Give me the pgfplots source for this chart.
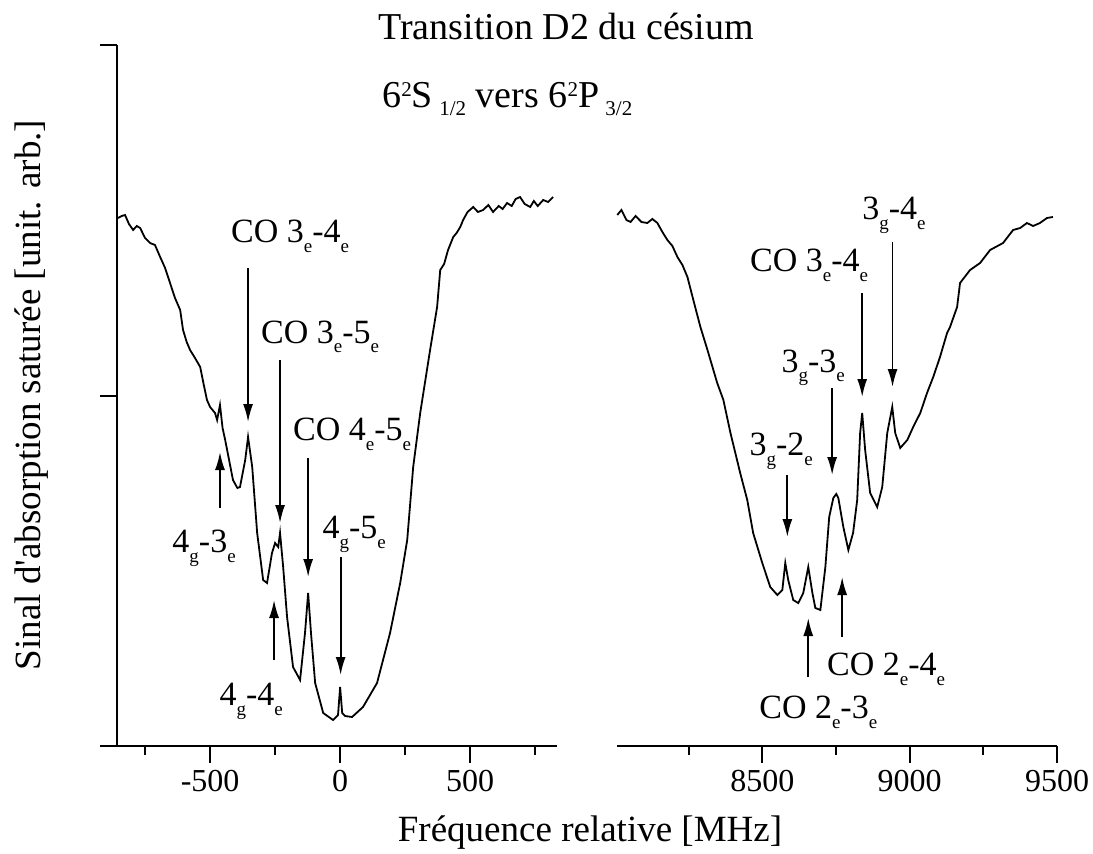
\documentclass[border=0pt]{standalone}
\usepackage{fontspec}
\setmainfont{Liberation Serif}
\usepackage{pgfplots}
\pgfplotsset{compat=1.18}
\usetikzlibrary{arrows.meta}

% small, low subscripts as in the scan
\newcommand\sub[1]{\raisebox{-5pt}{\fontsize{9.5}{9.5}\selectfont #1}}
\newcommand\tsub[1]{\raisebox{-4pt}{\fontsize{10.5}{10.5}\selectfont #1}}
\newcommand\tsup[1]{\raisebox{5.5pt}{\fontsize{10.5}{10.5}\selectfont #1}}

\pgfplotsset{
  panel/.style={
    scale only axis, width=220pt, height=350.5pt,
    anchor=south west,
    ymin=0, ymax=701, clip=false,
    axis x line*=bottom,
    axis line style={line width=1.3pt},
    tick align=outside,
    major tick length=8.5pt, minor tick length=4.5pt,
    tick style={line width=1pt, black},
    ticklabel style={font=\fontsize{16}{16}\selectfont},
    /pgf/number format/assume math mode=true,
    /pgf/number format/1000 sep={},
  },
}
\tikzset{
  lbl/.style={anchor=base, font=\fontsize{17}{17}\selectfont, inner sep=0pt},
  arr/.style={line width=0.9pt, -{Latex[length=9pt,width=5pt]}},
}

\begin{document}
\begin{tikzpicture}
\path[use as bounding box] (0,0) rectangle (546.5pt,426.5pt);

% --- F=4 ground state ---
\begin{axis}[panel, at={(58.5pt,53.5pt)},
  xmin=-858, xmax=834,
  xtick={-500,0,500}, minor xtick={-750,-250,250,750},
  axis y line*=left, ytick={0,350.5,701}, yticklabels={}]
\addplot[black, line width=0.9pt, mark=none] coordinates {
(-854,528) (-840,530) (-827,531) (-812,522) (-796,516) (-782,520) (-769,518)
(-750,508) (-731,503) (-712,501) (-692,489) (-673,478) (-654,463) (-635,448)
(-615,436) (-604,416) (-590,404) (-577,396) (-558,388) (-538,379) (-525,362)
(-512,346) (-500,339) (-481,333) (-473,326) (-462,341) (-452,318) (-442,306)
(-412,266) (-395,258) (-385,259) (-365,286) (-354,309) (-338,279) (-319,213)
(-296,166) (-281,163) (-262,193) (-250,203) (-238,199) (-231,213) (-219,179)
(-204,129) (-181,79) (-154,66) (-135,113) (-123,153) (-112,113) (-96,63)
(-65,33) (-27,26) (-8,31) (0,59) (8,33) (19,30) (46,29) (88,39) (142,63)
(192,113) (231,163) (258,206) (281,279) (308,333) (346,396) (373,439)
(385,476) (400,482) (415,496) (435,509) (448,513) (462,519) (473,526)
(490,534) (512,539) (530,534) (550,536) (570,541) (588,534) (610,540)
(625,537) (642,543) (660,540) (675,547) (692,549) (710,542) (731,539)
(745,545) (760,540) (781,546) (800,544) (819,549)
};
\draw[line width=1.3pt] (rel axis cs:0,0) -- ++(-7pt,0);
\draw[arr] (-354,478) -- (-354,324);
\node[lbl] at (-192,503) {CO 3\sub{e}-4\sub{e}};
\draw[arr] (-231,386) -- (-231,223);
\node[lbl] at (-77,403) {CO 3\sub{e}-5\sub{e}};
\draw[arr] (-123,288) -- (-123,169);
\node[lbl] at (46,306) {CO 4\sub{e}-5\sub{e}};
\draw[arr] (2,189) -- (2,71);
\node[lbl] at (54,208) {4\sub{g}-5\sub{e}};
\draw[arr] (-462,238) -- (-462,294);
\node[lbl] at (-523,194) {4\sub{g}-3\sub{e}};
\draw[arr] (-254,86) -- (-254,146);
\node[lbl] at (-342,41) {4\sub{g}-4\sub{e}};
\end{axis}

% --- F=3 ground state ---
\begin{axis}[panel, at={(308.5pt,53.5pt)},
  xmin=8007, xmax=9500,
  xtick={8500,9000,9500}, minor xtick={8250,8750,9250},
  axis y line=none]
\addplot[black, line width=0.9pt, mark=none] coordinates {
(8008,531) (8022,536) (8039,526) (8053,524) (8070,530) (8090,524) (8110,523)
(8127,527) (8144,523) (8161,514) (8178,506) (8195,500) (8212,489) (8229,481)
(8246,469) (8266,446) (8290,419) (8314,396) (8347,363) (8368,346) (8392,313)
(8425,273) (8449,246) (8469,213) (8500,183) (8527,159) (8551,151) (8568,156)
(8578,183) (8588,166) (8605,146) (8622,143) (8639,153) (8656,179) (8670,153)
(8680,138) (8697,136) (8714,179) (8727,229) (8741,248) (8751,252) (8758,248)
(8775,219) (8792,196) (8808,213) (8822,246) (8832,313) (8839,333) (8849,296)
(8866,253) (8890,239) (8907,259) (8924,313) (8941,339) (8951,313) (8968,298)
(8992,306) (9012,319) (9036,333) (9059,353) (9080,369) (9103,389) (9127,413)
(9137,419) (9161,439) (9171,463) (9205,476) (9239,483) (9273,496) (9317,503)
(9351,516) (9375,518) (9398,523) (9419,520) (9442,523) (9466,528) (9486,529)
};
\draw[arr] (8942,504) -- (8942,359);
\node[lbl] at (8947,526) {3\sub{g}-4\sub{e}};
\draw[arr] (8839,453) -- (8839,349);
\node[lbl] at (8659,474) {CO 3\sub{e}-4\sub{e}};
\draw[arr] (8737,358) -- (8737,271);
\node[lbl] at (8673,374) {3\sub{g}-3\sub{e}};
\draw[arr] (8585,271) -- (8585,209);
\node[lbl] at (8564,291) {3\sub{g}-2\sub{e}};
\draw[arr] (8656,69) -- (8656,128);
\node[lbl] at (8690,28) {CO 2\sub{e}-3\sub{e}};
\draw[arr] (8771,109) -- (8771,169);
\node[lbl] at (8920,71) {CO 2\sub{e}-4\sub{e}};
\end{axis}

\node[anchor=base west, inner sep=0pt, font=\fontsize{19}{19}\selectfont]
  at (189pt,406.5pt) {Transition D2 du césium};
\node[anchor=base west, inner sep=0pt, font=\fontsize{19}{19}\selectfont]
  at (191pt,372.5pt) {6\tsup{2}S\,\tsub{1/2} vers 6\tsup{2}P\,\tsub{3/2}};
\node[rotate=90, anchor=base, inner sep=0pt, font=\fontsize{18.5}{18.5}\selectfont]
  at (20pt,229pt) {Sinal d\textquotesingle absorption saturée [unit. arb.]};
\node[anchor=base, inner sep=0pt, font=\fontsize{18.5}{18.5}\selectfont]
  at (295pt,6pt) {Fréquence relative [MHz]};
\end{tikzpicture}
\end{document}
